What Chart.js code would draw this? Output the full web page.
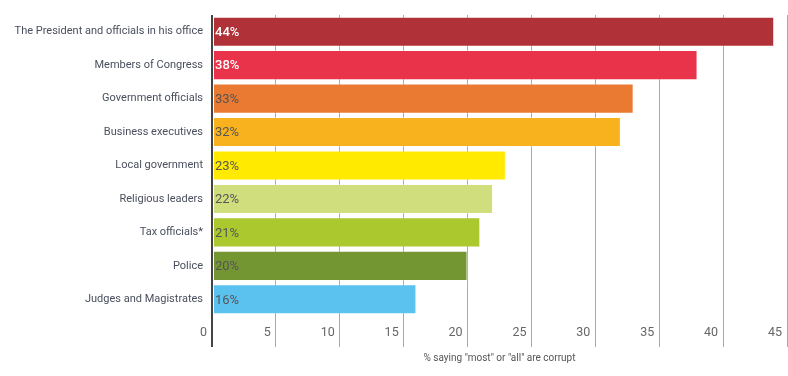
<!DOCTYPE html>
<html>
<head>
<meta charset="utf-8">
<script src="https://cdn.jsdelivr.net/npm/chart.js@4.4.1/dist/chart.umd.min.js"></script>
<style>
  html, body { margin: 0; padding: 0; background: #fff; }
  #wrap { width: 788px; height: 376px; }
</style>
</head>
<body>
<div id="wrap"><canvas id="myChart"></canvas></div>
<script>
const categories = [
    'The President and officials in his office',
    'Members of Congress',
    'Government officials',
    'Business executives',
    'Local government',
    'Religious leaders',
    'Tax officials*',
    'Police',
    'Judges and Magistrates'
];
const values = [44, 38, 33, 32, 23, 22, 21, 20, 16];
const barColors = ['#b03238', '#e8334a', '#ea7a32', '#f8b21e', '#ffea00', '#d1de7e', '#abc82e', '#739633', '#5bc2f0'];
const xTicks = [0, 5, 10, 15, 20, 25, 30, 35, 40, 45];
const axisTitle = '% saying "most" or "all" are corrupt';

const fontFamily = 'Roboto, sans-serif';

// 막대 안쪽 값 라벨
const valueLabels = {
    id: 'valueLabels',
    afterDatasetsDraw(chart) {
        const ctx = chart.ctx;
        const meta = chart.getDatasetMeta(0);
        ctx.save();
        ctx.textBaseline = 'middle';
        ctx.textAlign = 'left';
        meta.data.forEach((bar, i) => {
            ctx.font = (i < 2 ? '500 ' : '') + '13px ' + fontFamily;
            ctx.fillStyle = i < 2 ? '#ffffff' : '#555555';
            ctx.fillText(values[i] + '%', chart.chartArea.left + 3, bar.y + 1);
        });
        ctx.restore();
    }
};

const ctx = document.getElementById('myChart').getContext('2d');
const myChart = new Chart(ctx, {
    type: 'bar',
    data: {
        labels: categories,
        datasets: [{
            data: values,
            backgroundColor: barColors,
            borderColor: 'rgba(255, 255, 255, 0.35)',
            borderWidth: 1,
            borderSkipped: false,
            barPercentage: 0.9,
            categoryPercentage: 1
        }]
    },
    options: {
        indexAxis: 'y',
        responsive: true,
        maintainAspectRatio: false,
        animation: false,
        layout: { padding: { top: 15, right: 1, bottom: 8, left: 0 } },
        plugins: {
            legend: { display: false },
            tooltip: { enabled: false }
        },
        scales: {
            x: {
                min: 0,
                max: 45,
                afterBuildTicks: scale => { scale.ticks = xTicks.map(v => ({ value: v })); },
                afterFit: scale => { scale.height = 52; },
                border: { display: false },
                grid: {
                    color: c => c.tick && c.tick.value === 0 ? '#444444' : '#aaaaaa',
                    lineWidth: c => c.tick && c.tick.value === 0 ? 2 : 1,
                    tickLength: 31,
                    tickColor: c => c.tick && c.tick.value === 0 ? '#444444' : '#aaaaaa'
                },
                ticks: {
                    align: 'end',
                    labelOffset: -5,
                    padding: -22,
                    color: '#666666',
                    font: { family: fontFamily, size: 12.5 }
                },
                title: {
                    display: true,
                    text: axisTitle,
                    color: '#555555',
                    padding: { top: 4, bottom: 4 },
                    font: { family: fontFamily, size: 10 }
                }
            },
            y: {
                afterFit: scale => { scale.width = 212; },
                border: { display: false },
                grid: { display: false },
                ticks: {
                    padding: 1,
                    color: '#4a4f5e',
                    font: { family: fontFamily, size: 11 }
                }
            }
        }
    },
    plugins: [valueLabels]
});
</script>
</body>
</html>
